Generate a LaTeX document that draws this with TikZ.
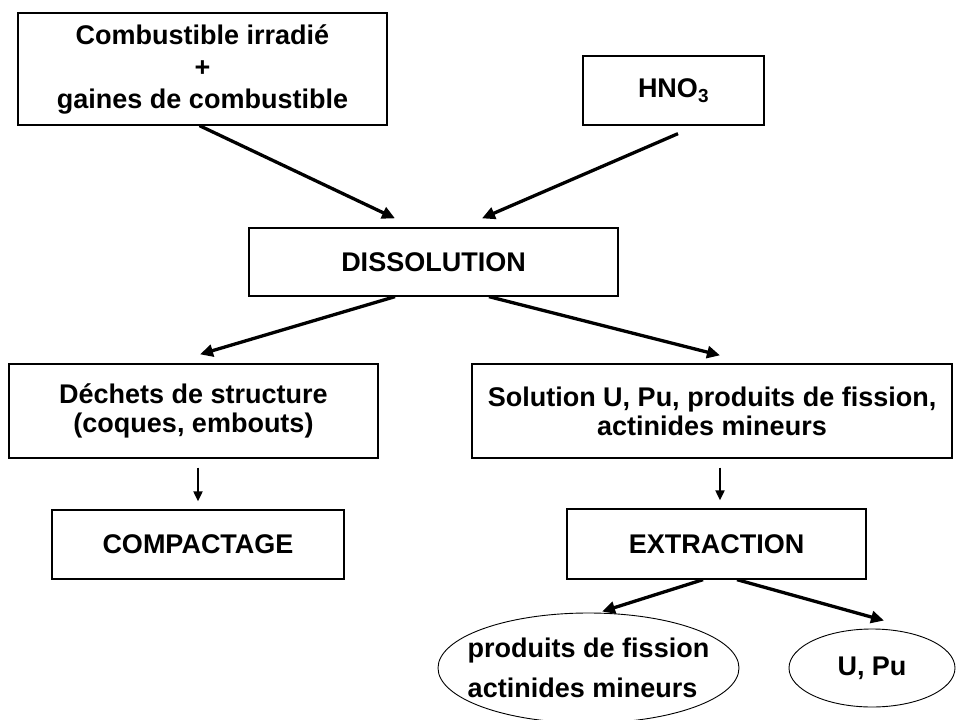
\documentclass[tikz,border=0pt]{standalone}
\usepackage{fontspec}
\setmainfont{Liberation Sans}
\usetikzlibrary{arrows.meta,shapes.geometric}

\begin{document}
\begin{tikzpicture}
	[	x=1pt,y=-1pt,
	box/.style={rectangle,draw=black,line width=1.3pt,inner sep=0pt,align=center,font=\fontsize{27}{29}\selectfont\bfseries},
	oval/.style={ellipse,draw=black,line width=0.9pt,inner sep=0pt,font=\fontsize{27}{40}\selectfont\bfseries},
	flow/.style={-{Triangle[length=13pt,width=12pt]},line width=3.3pt},
	down/.style={-{Triangle[length=10pt,width=9pt]},line width=2pt}
	]
	\useasboundingbox (0,0) rectangle (956,720);

	\node[box,minimum width=369,minimum height=112,font=\fontsize{27}{32}\selectfont\bfseries] (fuel) at (202.5,69) {Combustible irradié\\+\\gaines de combustible};
	\node[box,minimum width=181,minimum height=69] (hno) at (673.5,90.5) {HNO\textsubscript{3}};
	\node[box,minimum width=369,minimum height=68] (diss) at (433.5,262) {DISSOLUTION};

	\node[box,minimum width=369,minimum height=94] (waste) at (193.5,411) {Déchets de structure\\(coques, embouts)};
	\node[box,minimum width=480,minimum height=94] (sol) at (712,411) {Solution U, Pu, produits de fission,\\actinides mineurs};

	\node[box,minimum width=292,minimum height=69] (compact) at (198,544.5) {COMPACTAGE};
	\node[box,minimum width=299,minimum height=70] (extr) at (716.5,544) {EXTRACTION};

	\node[oval,minimum width=301,minimum height=110,
		label={[font=\fontsize{27}{40}\selectfont\bfseries,align=left]center:produits de fission\\actinides mineurs}] (fp) at (588.5,668) {};
	\node[oval,minimum width=166,minimum height=78] (upu) at (872,668) {U, Pu};

	% flux vers la dissolution
	\draw[flow] ([xshift=-3pt]fuel.south) -- ([xshift=-38.5pt,yshift=9pt]diss.north);
	\draw[flow] ([xshift=4.5pt,yshift=-8pt]hno.south) -- ([xshift=48.5pt,yshift=9pt]diss.north);
	\draw[flow] ([xshift=-38.5pt]diss.south) -- ([xshift=6.5pt,yshift=9pt]waste.north);
	\draw[flow] ([xshift=55.5pt]diss.south) -- ([xshift=8pt,yshift=8pt]sol.north);

	\draw[down] ([xshift=4.5pt,yshift=-9pt]waste.south) -- ([yshift=8pt]compact.north);
	\draw[down] ([xshift=8pt,yshift=-9pt]sol.south) -- ([xshift=3.5pt,yshift=8pt]extr.north);

	\draw[flow] ([xshift=-13.5pt]extr.south) -- ([xshift=13.5pt,yshift=1pt]fp.north);
	\draw[flow] ([xshift=20.5pt]extr.south) -- ([xshift=12pt,yshift=8pt]upu.north);
\end{tikzpicture}
\end{document}
